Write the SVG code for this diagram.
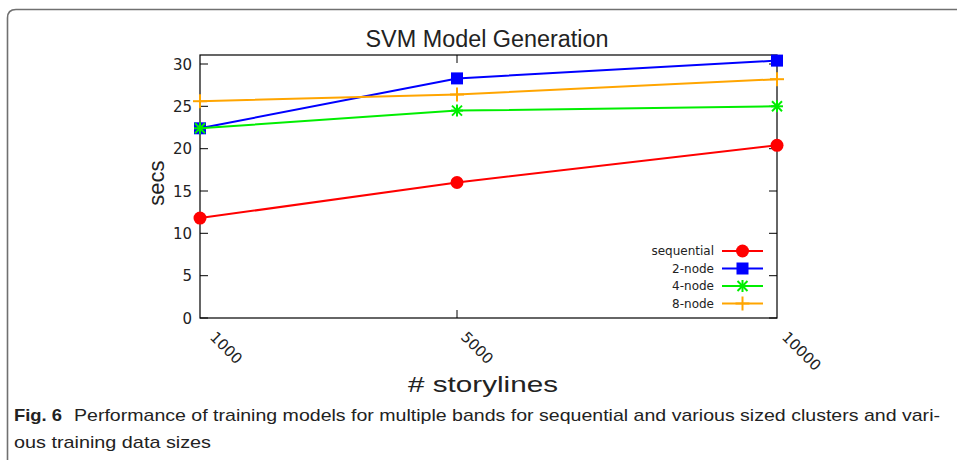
<svg xmlns="http://www.w3.org/2000/svg" width="957" height="460" viewBox="0 0 957 460">
  <style>
    .frame { fill: none; stroke: #707070; stroke-width: 1.6; }
    .axis { fill: none; stroke: #000; stroke-width: 1.2; }
    .tick { stroke: #000; stroke-width: 1; }
    .ylab { font-family: "DejaVu Sans", "Liberation Sans", sans-serif; font-size: 15px; fill: #222; text-anchor: end; }
    .xlab { font-family: "DejaVu Sans", "Liberation Sans", sans-serif; font-size: 15px; fill: #222; }
    .title { font-family: "Liberation Sans", "DejaVu Sans", sans-serif; font-size: 23px; fill: #222; text-anchor: middle; }
    .atitle { font-family: "Liberation Sans", "DejaVu Sans", sans-serif; font-size: 22px; fill: #222; text-anchor: middle; }
    .leg { font-family: "DejaVu Sans", "Liberation Sans", sans-serif; font-size: 12px; fill: #222; text-anchor: end; }
    .cap { font-family: "Liberation Sans", "Open Sans", sans-serif; font-size: 17px; fill: #222; }
    .series { fill: none; stroke-width: 2; stroke-linejoin: round; }
    .seq { stroke: #ff0000; }
    .n2 { stroke: #0000ff; }
    .n4 { stroke: #00ee00; }
    .n8 { stroke: #ffa500; }
  </style>
  <defs>
    <circle id="m-circle" r="6.5" fill="#ff0000"/>
    <rect id="m-square" x="-6" y="-6" width="12" height="12" fill="#0000ff"/>
    <g id="m-star" stroke="#00ee00" stroke-width="2">
      <line x1="-6" y1="0" x2="6" y2="0"/>
      <line x1="0" y1="-6" x2="0" y2="6"/>
      <line x1="-5" y1="-5" x2="5" y2="5"/>
      <line x1="-5" y1="5" x2="5" y2="-5"/>
    </g>
    <g id="m-plus" stroke="#ffa500" stroke-width="2">
      <line x1="-7" y1="0" x2="7" y2="0"/>
      <line x1="0" y1="-7" x2="0" y2="7"/>
    </g>
  </defs>

  <!-- figure frame, open to the right and bottom -->
  <path class="frame" d="M7.5,460 V18 Q7.5,9.5 16,9.5 H957"/>

  <text class="title" x="487" y="47" textLength="243" lengthAdjust="spacingAndGlyphs">SVM Model Generation</text>

  <!-- plot box and ticks -->
  <g id="axes">
    <rect class="axis" x="200" y="55" width="577" height="263"/>
    <g class="tick">
      <line x1="200" y1="318" x2="208" y2="318"/><line x1="777" y1="318" x2="769" y2="318"/>
      <line x1="200" y1="275.7" x2="208" y2="275.7"/><line x1="777" y1="275.7" x2="769" y2="275.7"/>
      <line x1="200" y1="233.3" x2="208" y2="233.3"/><line x1="777" y1="233.3" x2="769" y2="233.3"/>
      <line x1="200" y1="191" x2="208" y2="191"/><line x1="777" y1="191" x2="769" y2="191"/>
      <line x1="200" y1="148.7" x2="208" y2="148.7"/><line x1="777" y1="148.7" x2="769" y2="148.7"/>
      <line x1="200" y1="106.3" x2="208" y2="106.3"/><line x1="777" y1="106.3" x2="769" y2="106.3"/>
      <line x1="200" y1="64" x2="208" y2="64"/><line x1="777" y1="64" x2="769" y2="64"/>
      <line x1="457" y1="318" x2="457" y2="310"/><line x1="457" y1="55" x2="457" y2="63"/>
    </g>
    <text class="ylab" x="192" y="323.5">0</text>
    <text class="ylab" x="192" y="281.2">5</text>
    <text class="ylab" x="192" y="238.8">10</text>
    <text class="ylab" x="192" y="196.5">15</text>
    <text class="ylab" x="192" y="154.2">20</text>
    <text class="ylab" x="192" y="111.8">25</text>
    <text class="ylab" x="192" y="69.5">30</text>
    <text class="xlab" transform="translate(209,338) rotate(45)">1000</text>
    <text class="xlab" transform="translate(460,338) rotate(45)">5000</text>
    <text class="xlab" transform="translate(781,338) rotate(45)">10000</text>
  </g>

  <text class="atitle" transform="translate(164,183) rotate(-90)">secs</text>
  <text class="atitle" x="483" y="392" textLength="150" lengthAdjust="spacingAndGlyphs">#  storylines</text>

  <!-- data series -->
  <g id="sequential">
    <polyline class="series seq" points="200,218.1 457,182.5 777,145.3"/>
    <use href="#m-circle" x="200" y="218.1"/>
    <use href="#m-circle" x="457" y="182.5"/>
    <use href="#m-circle" x="777" y="145.3"/>
  </g>
  <g id="node2">
    <polyline class="series n2" points="200,128.3 457,78.4 777,60.6"/>
    <use href="#m-square" x="200" y="128.3"/>
    <use href="#m-square" x="457" y="78.4"/>
    <use href="#m-square" x="777" y="60.6"/>
  </g>
  <g id="node4">
    <polyline class="series n4" points="200,128.3 457,110.6 777,106.3"/>
    <use href="#m-star" x="200" y="128.3"/>
    <use href="#m-star" x="457" y="110.6"/>
    <use href="#m-star" x="777" y="106.3"/>
  </g>
  <g id="node8">
    <polyline class="series n8" points="200,101.2 457,94.5 777,79.2"/>
    <use href="#m-plus" x="200" y="101.2"/>
    <use href="#m-plus" x="457" y="94.5"/>
    <use href="#m-plus" x="777" y="79.2"/>
  </g>

  <!-- key -->
  <g id="legend">
    <text class="leg" x="714" y="255">sequential</text>
    <line class="series seq" x1="722" y1="251" x2="763" y2="251"/>
    <use href="#m-circle" x="742.5" y="251"/>
    <text class="leg" x="714" y="272.5">2-node</text>
    <line class="series n2" x1="722" y1="268.5" x2="763" y2="268.5"/>
    <use href="#m-square" x="742.5" y="268.5"/>
    <text class="leg" x="714" y="290">4-node</text>
    <line class="series n4" x1="722" y1="286" x2="763" y2="286"/>
    <use href="#m-star" x="742.5" y="286"/>
    <text class="leg" x="714" y="307.5">8-node</text>
    <line class="series n8" x1="722" y1="303.5" x2="763" y2="303.5"/>
    <use href="#m-plus" x="742.5" y="303.5"/>
  </g>

  <!-- caption -->
  <text class="cap" x="14" y="421" font-weight="bold" textLength="48" lengthAdjust="spacingAndGlyphs">Fig. 6</text>
  <text class="cap" x="74" y="421" textLength="866" lengthAdjust="spacingAndGlyphs">Performance of training models for multiple bands for sequential and various sized clusters and vari-</text>
  <text class="cap" x="14" y="448" textLength="197" lengthAdjust="spacingAndGlyphs">ous training data sizes</text>
</svg>
